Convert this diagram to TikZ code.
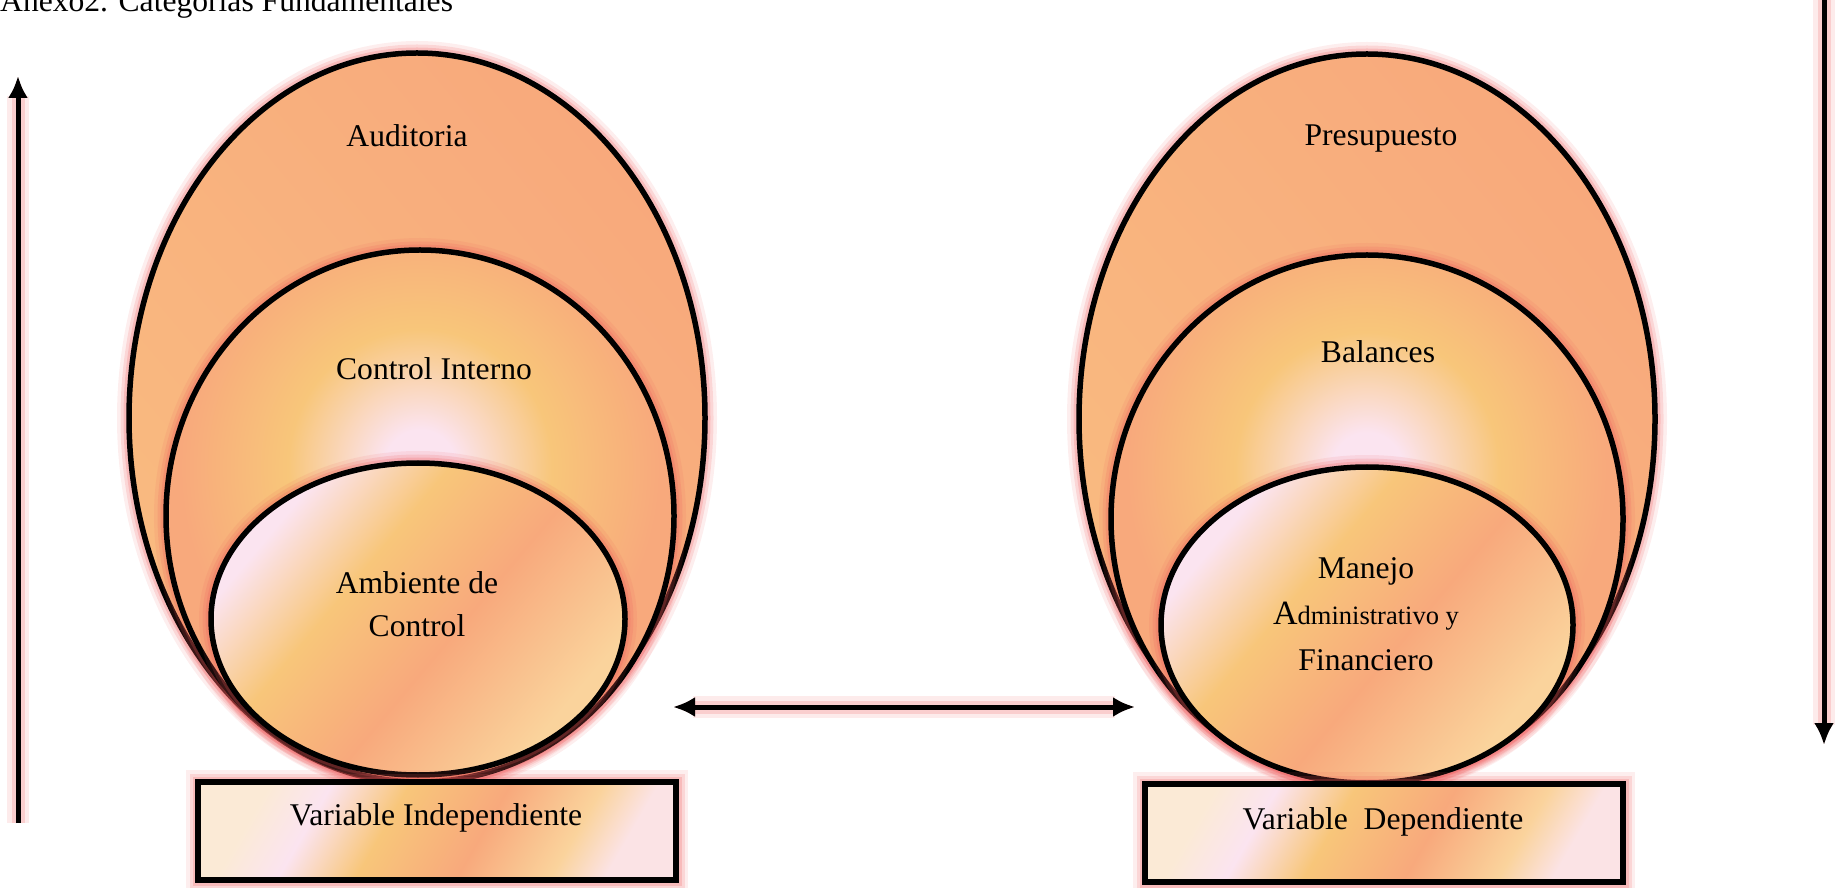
\documentclass[tikz,border=0pt]{standalone}
\usepackage{fontspec}
\setmainfont{Liberation Serif}
\usetikzlibrary{arrows.meta,shapes.geometric,positioning}

\definecolor{peach}{HTML}{F8A97C}
\definecolor{outeryel}{HTML}{F9BB80}
\definecolor{yelo}{HTML}{F8C67A}
\definecolor{pinkw}{HTML}{FBE4F0}
\definecolor{lightyel}{HTML}{FAD39C}
\definecolor{cream}{HTML}{FBEAD6}
\definecolor{pinkl}{HTML}{FBE3E5}
\definecolor{glowred}{HTML}{EE5A5A}

\pgfdeclarehorizontalshading{outerfill}{100bp}{color(0bp)=(outeryel); color(25bp)=(outeryel); color(75bp)=(peach); color(100bp)=(peach)}
\pgfdeclarehorizontalshading{innerfill}{100bp}{color(0bp)=(pinkw); color(27bp)=(pinkw); color(40bp)=(yelo); color(55bp)=(peach); color(73bp)=(lightyel); color(100bp)=(lightyel)}
\pgfdeclarehorizontalshading{barfill}{100bp}{color(0bp)=(cream); color(25bp)=(cream); color(33bp)=(pinkw); color(43bp)=(yelo); color(56bp)=(peach); color(68bp)=(lightyel); color(75bp)=(pinkl); color(100bp)=(pinkl)}
\pgfdeclareradialshading{midglow}{\pgfpoint{0bp}{0bp}}{color(0bp)=(pinkw); color(3bp)=(pinkw); color(11bp)=(yelo); color(20bp)=(peach); color(25bp)=(peach); color(50bp)=(peach)}

\begin{document}
\begin{tikzpicture}[x=1pt,y=1pt,
	glow/.style={preaction={draw=glowred,draw opacity=.10,line width=24},preaction={draw=glowred,draw opacity=.16,line width=17},preaction={draw=glowred,draw opacity=.22,line width=11}},
	shell/.style={ellipse,draw=black,line width=5.5,inner sep=0,outer sep=0,glow},
	outer/.style={shell,shade,shading=outerfill,shading angle=40},
	inner/.style={shell,shade,shading=innerfill,shading angle=-40},
	bar/.style={rectangle,draw=black,line width=5.5,inner sep=0,outer sep=0,glow,shade,shading=barfill,shading angle=-30,minimum width=478,minimum height=98},
	lbl/.style={font=\fontsize{31.6}{43}\selectfont,align=center,inner sep=0},
	arr/.style={line width=5,-{Latex[length=22pt,width=20pt]},preaction={draw=glowred,draw opacity=.12,line width=22},preaction={draw=glowred,draw opacity=.2,line width=13}},
	twoarr/.style={arr,{Latex[length=22pt,width=20pt]}-{Latex[length=22pt,width=20pt]}}]
	\useasboundingbox (0,0) rectangle (1838,887);

	% independent variable
	\node (audit) at (417,469) [outer,minimum width=576,minimum height=730] {};
	\node (ctrlint) at (420,371) [shell,fill=peach,minimum width=508,minimum height=532,path picture={\shade[shading=midglow] ([yshift=63pt]path picture bounding box.center) circle (300);}] {};
	\node (ambiente) at (418,268) [inner,minimum width=414,minimum height=312] {};
	\node (varind) at (437,56) [bar] {};

	% dependent variable
	\node (presup) at (1367,468) [outer,minimum width=576,minimum height=730] {};
	\node (balances) at (1367,368) [shell,fill=peach,minimum width=512,minimum height=528,path picture={\shade[shading=midglow] ([yshift=62pt]path picture bounding box.center) circle (300);}] {};
	\node (manejo) at (1367,262) [inner,minimum width=412,minimum height=316] {};
	\node (vardep) at (1384,54) [bar] {};

	\node (title) at (0,875) [anchor=base west,inner sep=0,font=\fontsize{31.6}{43}\selectfont] {Anexo2. Categorías Fundamentales};
	\node (tAudit) at (407,751) [lbl] {Auditoria};
	\node (tCtrl) at (434,518) [lbl] {Control Interno};
	\node (tAmb) at (417,283) [lbl] {Ambiente de\\Control};
	\node (tVarInd) at (436,69) [lbl] {Variable Independiente};
	\node (tPres) at (1381,748) [lbl] {Presupuesto};
	\node (tBal) at (1378,535) [lbl] {Balances};
	\node (tMan) at (1366,273) [lbl,font=\fontsize{31.6}{46}\selectfont] {Manejo\\{\fontsize{34}{46}\selectfont A}{\fontsize{26.5}{46}\selectfont dministrativo y}\\Financiero};
	\node (tVarDep) at (1383,65) [lbl] {Variable\ \ Dependiente};

	\coordinate (upS) at (18,64);
	\coordinate (upE) at (18,811);
	\coordinate (downS) at (1824,892);
	\coordinate (downE) at (1824,142);
	\coordinate (linkL) at (673,180);
	\coordinate (linkR) at (1135,180);

	\draw[arr] (upS) -- (upE);
	\draw[arr] (downS) -- (downE);
	\draw[twoarr] (linkL) -- (linkR);
\end{tikzpicture}
\end{document}
